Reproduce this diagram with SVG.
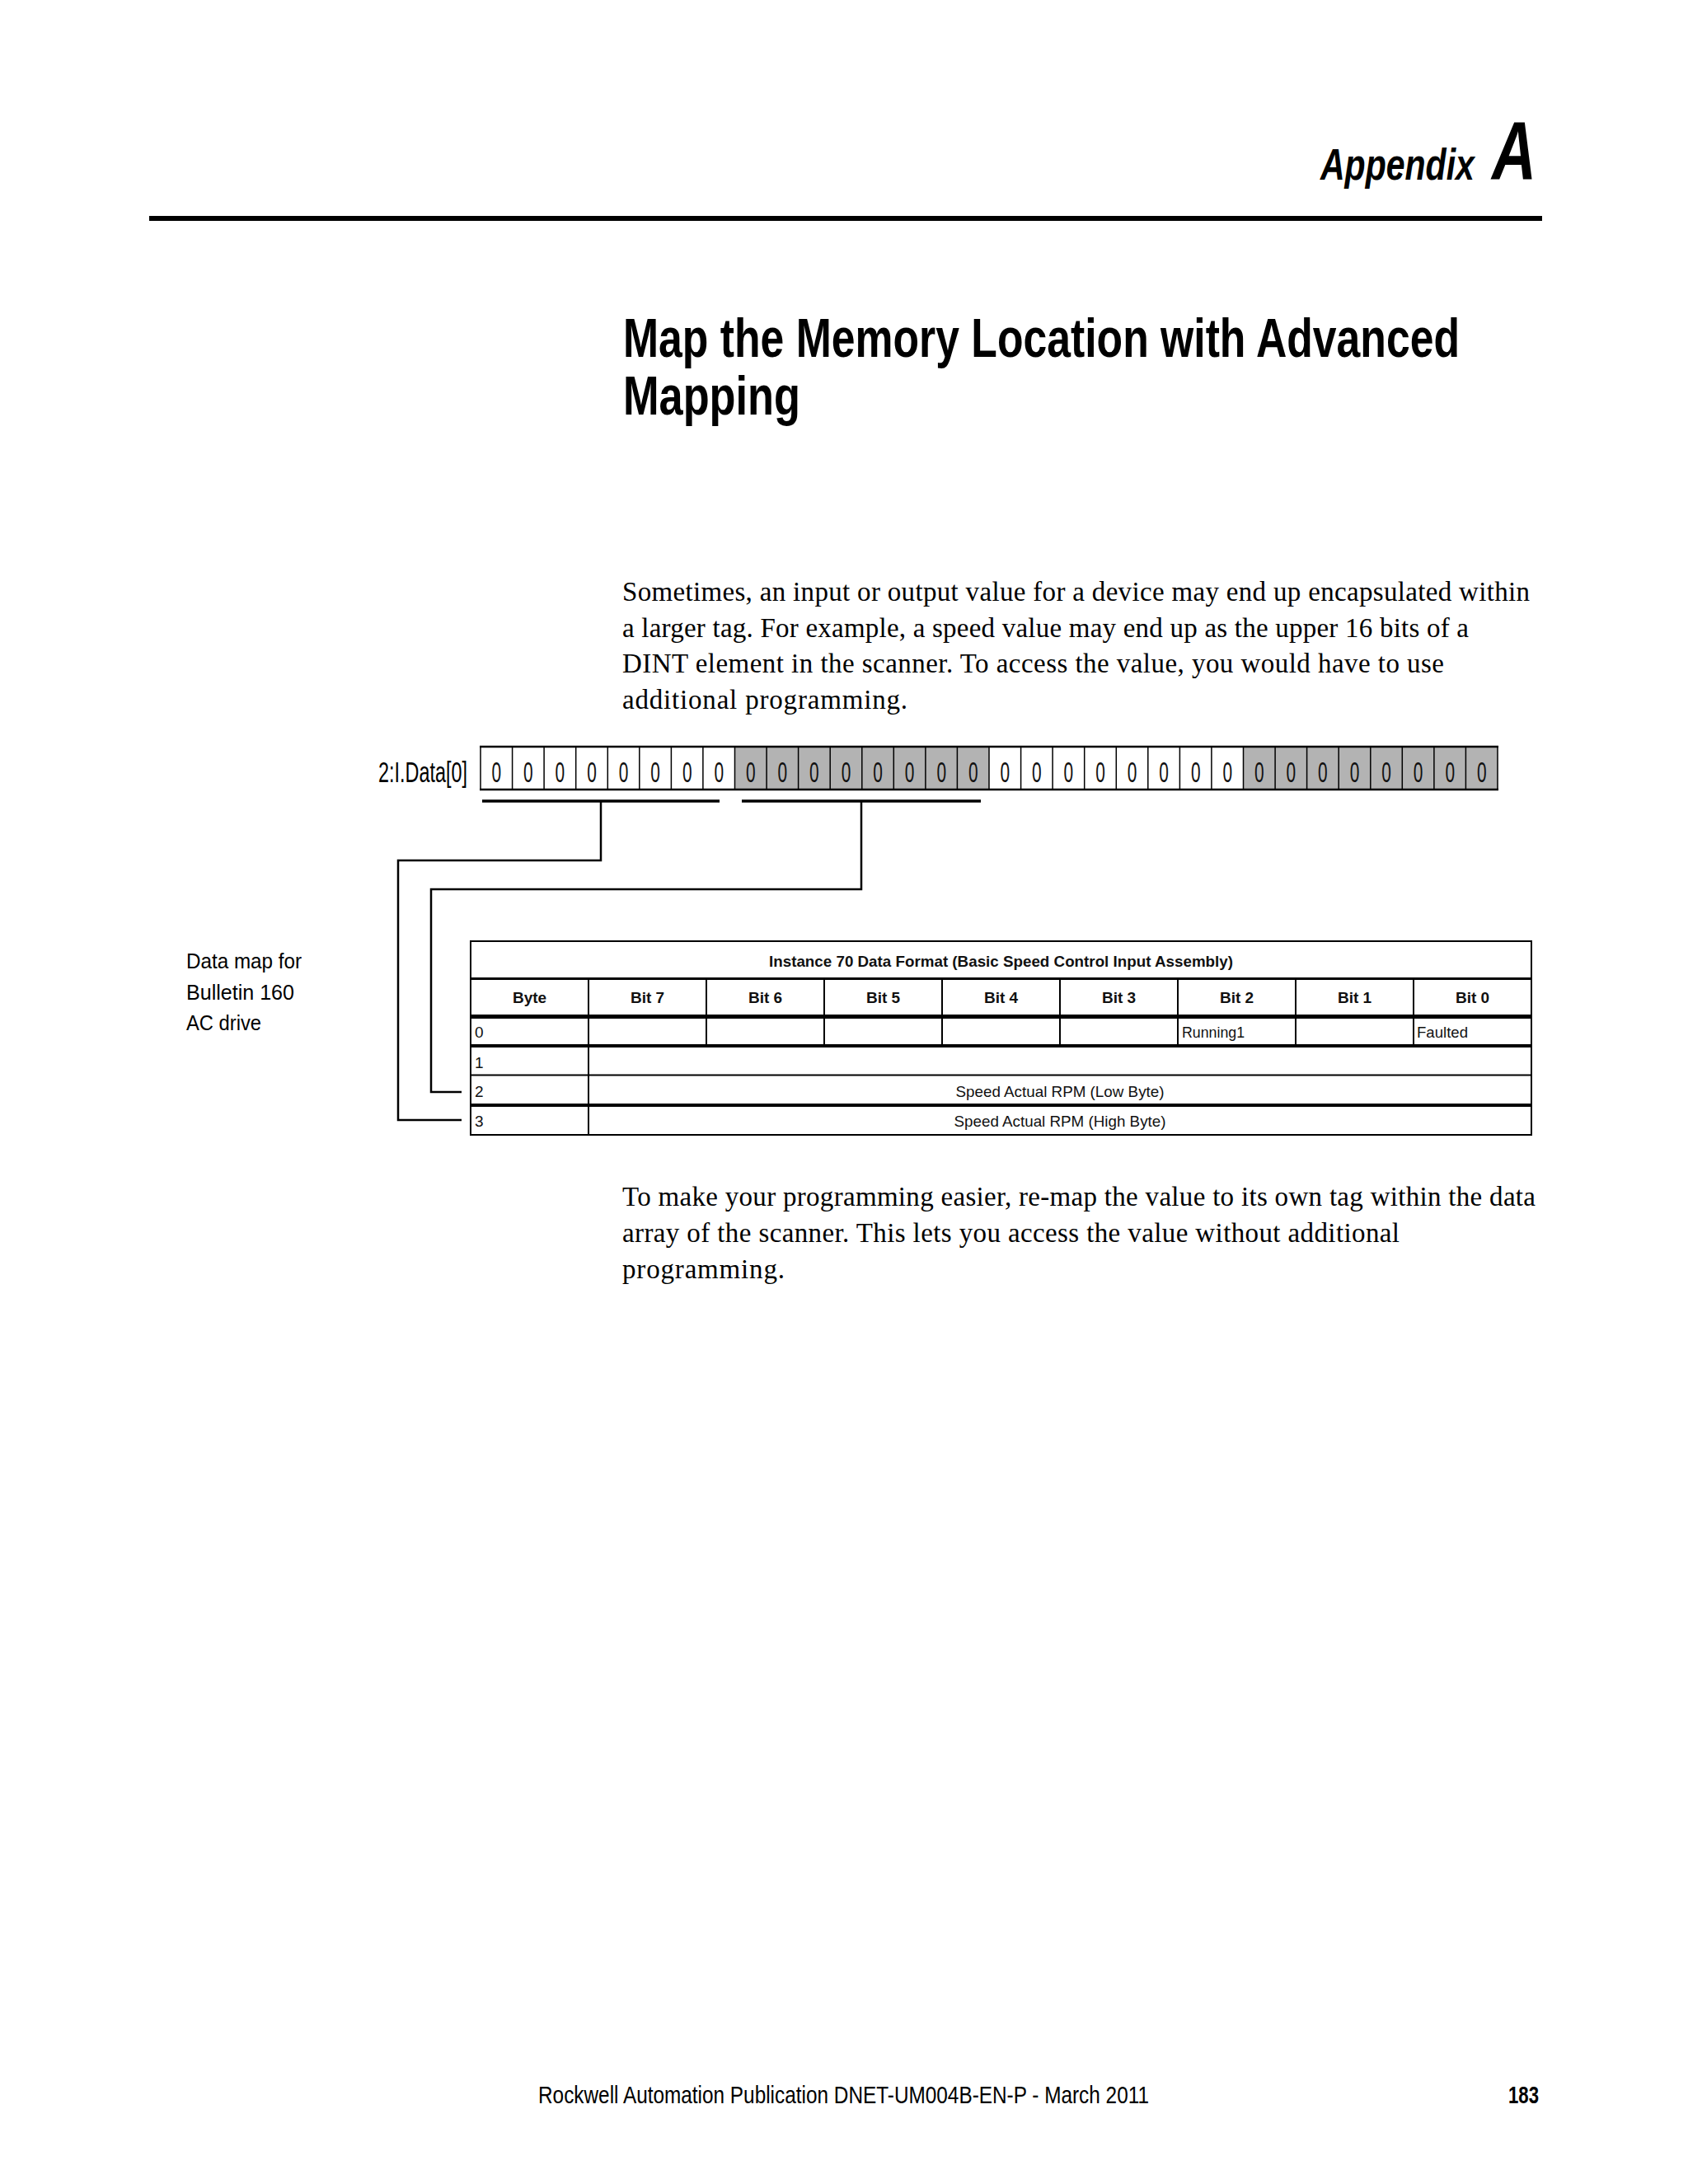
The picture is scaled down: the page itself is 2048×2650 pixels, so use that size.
<svg xmlns="http://www.w3.org/2000/svg" width="2048" height="2650" viewBox="0 0 2048 2650">
<style>
.sans{font-family:"Liberation Sans",Arial,sans-serif;fill:#000}
.serif{font-family:"Liberation Serif","Times New Roman",serif;fill:#000;font-size:33px}
.bold{font-weight:bold}
.digit{font-family:"Liberation Sans",Arial,sans-serif;font-size:36px;text-anchor:middle;fill:#111}
.cell{font-family:"Liberation Sans",Arial,sans-serif;font-size:19px;fill:#111}
.hdr{font-family:"Liberation Sans",Arial,sans-serif;font-size:19px;font-weight:bold;text-anchor:middle;fill:#111}
.ln{stroke:#000;fill:none}
.conn{stroke:#000;fill:none;stroke-width:2.5}
.bar{stroke:#000;stroke-width:3.5}
</style>
<rect width="2048" height="2650" fill="#fff"/>

<g id="page-header">
  <text class="sans bold" transform="translate(1602,218) scale(0.76,1)" font-size="54" font-style="italic">Appendix</text>
  <text class="sans bold" transform="translate(1810,218) scale(0.74,1)" font-size="101" font-style="italic">A</text>
  <line x1="181" y1="265" x2="1871" y2="265" stroke="#000" stroke-width="6"/>
</g>

<g id="title">
  <text class="sans bold" x="756" y="433" font-size="66" textLength="1015" lengthAdjust="spacingAndGlyphs">Map the Memory Location with Advanced</text>
  <text class="sans bold" x="756" y="503" font-size="66" textLength="215" lengthAdjust="spacingAndGlyphs">Mapping</text>
</g>

<g id="paragraph-1">
  <text class="serif" x="755" y="729" textLength="1101" lengthAdjust="spacing">Sometimes, an input or output value for a device may end up encapsulated within</text>
  <text class="serif" x="755" y="773" textLength="1027" lengthAdjust="spacing">a larger tag. For example, a speed value may end up as the upper 16 bits of a</text>
  <text class="serif" x="755" y="816" textLength="997" lengthAdjust="spacing">DINT element in the scanner. To access the value, you would have to use</text>
  <text class="serif" x="755" y="860" textLength="346" lengthAdjust="spacing">additional programming.</text>
</g>

<g id="bit-row">
  <text class="sans" transform="translate(567,949) scale(0.65,1)" font-size="36" text-anchor="end">2:I.Data[0]</text>
  <rect x="583" y="906" width="1234" height="52" fill="#fff"/>
  <rect x="891.5" y="906" width="308.5" height="52" fill="#b3b3b3"/>
  <rect x="1508.5" y="906" width="308.5" height="52" fill="#b3b3b3"/>
  <path class="ln" stroke-width="1.5" d="M583 906V958M621.6 906V958M660.1 906V958M698.7 906V958M737.3 906V958M775.8 906V958M814.4 906V958M852.9 906V958M891.5 906V958M930.1 906V958M968.6 906V958M1007.2 906V958M1045.8 906V958M1084.3 906V958M1122.9 906V958M1161.4 906V958M1200 906V958M1238.6 906V958M1277.1 906V958M1315.7 906V958M1354.3 906V958M1392.8 906V958M1431.4 906V958M1469.9 906V958M1508.5 906V958M1547.1 906V958M1585.6 906V958M1624.2 906V958M1662.8 906V958M1701.3 906V958M1739.9 906V958M1778.4 906V958M1817 906V958"/>
  <line class="ln" x1="582" y1="906" x2="1818" y2="906" stroke-width="2.5"/>
  <line class="ln" x1="582" y1="958" x2="1818" y2="958" stroke-width="2.5"/>
  <text class="digit" transform="translate(602.3,949) scale(0.58,1)">0</text>
  <text class="digit" transform="translate(640.8,949) scale(0.58,1)">0</text>
  <text class="digit" transform="translate(679.4,949) scale(0.58,1)">0</text>
  <text class="digit" transform="translate(718.0,949) scale(0.58,1)">0</text>
  <text class="digit" transform="translate(756.5,949) scale(0.58,1)">0</text>
  <text class="digit" transform="translate(795.1,949) scale(0.58,1)">0</text>
  <text class="digit" transform="translate(833.7,949) scale(0.58,1)">0</text>
  <text class="digit" transform="translate(872.2,949) scale(0.58,1)">0</text>
  <text class="digit" transform="translate(910.8,949) scale(0.58,1)">0</text>
  <text class="digit" transform="translate(949.3,949) scale(0.58,1)">0</text>
  <text class="digit" transform="translate(987.9,949) scale(0.58,1)">0</text>
  <text class="digit" transform="translate(1026.5,949) scale(0.58,1)">0</text>
  <text class="digit" transform="translate(1065.0,949) scale(0.58,1)">0</text>
  <text class="digit" transform="translate(1103.6,949) scale(0.58,1)">0</text>
  <text class="digit" transform="translate(1142.2,949) scale(0.58,1)">0</text>
  <text class="digit" transform="translate(1180.7,949) scale(0.58,1)">0</text>
  <text class="digit" transform="translate(1219.3,949) scale(0.58,1)">0</text>
  <text class="digit" transform="translate(1257.8,949) scale(0.58,1)">0</text>
  <text class="digit" transform="translate(1296.4,949) scale(0.58,1)">0</text>
  <text class="digit" transform="translate(1335.0,949) scale(0.58,1)">0</text>
  <text class="digit" transform="translate(1373.5,949) scale(0.58,1)">0</text>
  <text class="digit" transform="translate(1412.1,949) scale(0.58,1)">0</text>
  <text class="digit" transform="translate(1450.7,949) scale(0.58,1)">0</text>
  <text class="digit" transform="translate(1489.2,949) scale(0.58,1)">0</text>
  <text class="digit" transform="translate(1527.8,949) scale(0.58,1)">0</text>
  <text class="digit" transform="translate(1566.3,949) scale(0.58,1)">0</text>
  <text class="digit" transform="translate(1604.9,949) scale(0.58,1)">0</text>
  <text class="digit" transform="translate(1643.5,949) scale(0.58,1)">0</text>
  <text class="digit" transform="translate(1682.0,949) scale(0.58,1)">0</text>
  <text class="digit" transform="translate(1720.6,949) scale(0.58,1)">0</text>
  <text class="digit" transform="translate(1759.2,949) scale(0.58,1)">0</text>
  <text class="digit" transform="translate(1797.7,949) scale(0.58,1)">0</text>
</g>

<g id="connectors">
  <line class="bar" x1="585" y1="972" x2="873" y2="972"/>
  <line class="bar" x1="900" y1="972" x2="1190" y2="972"/>
  <path class="conn" d="M729 972V1044H483V1359H560"/>
  <path class="conn" d="M1045 972V1079H523V1325H560"/>
</g>

<g id="data-map-label">
  <text class="sans" x="226" y="1175" font-size="25" textLength="140" lengthAdjust="spacingAndGlyphs">Data map for</text>
  <text class="sans" x="226" y="1213" font-size="25" textLength="131" lengthAdjust="spacingAndGlyphs">Bulletin 160</text>
  <text class="sans" x="226" y="1250" font-size="25" textLength="91" lengthAdjust="spacingAndGlyphs">AC drive</text>
</g>

<g id="data-table">
  <rect class="ln" x="571" y="1142" width="1287" height="235" stroke-width="2"/>
  <line class="ln" x1="571" y1="1187.5" x2="1858" y2="1187.5" stroke-width="3"/>
  <line class="ln" x1="571" y1="1233.5" x2="1858" y2="1233.5" stroke-width="5"/>
  <line class="ln" x1="571" y1="1269" x2="1858" y2="1269" stroke-width="4"/>
  <line class="ln" x1="571" y1="1304.5" x2="1858" y2="1304.5" stroke-width="2"/>
  <line class="ln" x1="571" y1="1341" x2="1858" y2="1341" stroke-width="4"/>
  <path class="ln" stroke-width="2" d="M714 1187V1377M857 1187V1269M1000 1187V1269M1143 1187V1269M1286 1187V1269M1429 1187V1269M1572 1187V1269M1715 1187V1269"/>
  <text class="hdr" x="1214.5" y="1173" font-size="20" textLength="563" lengthAdjust="spacingAndGlyphs">Instance 70 Data Format (Basic Speed Control Input Assembly)</text>
  <text class="hdr" x="642.5" y="1217">Byte</text>
  <text class="hdr" x="785.5" y="1217">Bit 7</text>
  <text class="hdr" x="928.5" y="1217">Bit 6</text>
  <text class="hdr" x="1071.5" y="1217">Bit 5</text>
  <text class="hdr" x="1214.5" y="1217">Bit 4</text>
  <text class="hdr" x="1357.5" y="1217">Bit 3</text>
  <text class="hdr" x="1500.5" y="1217">Bit 2</text>
  <text class="hdr" x="1643.5" y="1217">Bit 1</text>
  <text class="hdr" x="1786.5" y="1217">Bit 0</text>
  <text class="cell" x="576" y="1259">0</text>
  <text class="cell" x="1434" y="1259" textLength="76" lengthAdjust="spacingAndGlyphs">Running1</text>
  <text class="cell" x="1719" y="1259" textLength="62" lengthAdjust="spacingAndGlyphs">Faulted</text>
  <text class="cell" x="576" y="1296">1</text>
  <text class="cell" x="576" y="1331">2</text>
  <text class="cell" x="1286" y="1331" text-anchor="middle" textLength="253" lengthAdjust="spacingAndGlyphs">Speed Actual RPM (Low Byte)</text>
  <text class="cell" x="576" y="1367">3</text>
  <text class="cell" x="1286" y="1367" text-anchor="middle" textLength="257" lengthAdjust="spacingAndGlyphs">Speed Actual RPM (High Byte)</text>
</g>

<g id="paragraph-2">
  <text class="serif" x="755" y="1463" textLength="1108" lengthAdjust="spacing">To make your programming easier, re-map the value to its own tag within the data</text>
  <text class="serif" x="755" y="1507" textLength="943" lengthAdjust="spacing">array of the scanner. This lets you access the value without additional</text>
  <text class="serif" x="755" y="1551" textLength="197" lengthAdjust="spacing">programming.</text>
</g>

<g id="footer">
  <text class="sans" x="653" y="2552" font-size="30" textLength="741" lengthAdjust="spacingAndGlyphs">Rockwell Automation Publication DNET-UM004B-EN-P - March 2011</text>
  <text class="sans bold" x="1867" y="2552" font-size="30" text-anchor="end" textLength="37" lengthAdjust="spacingAndGlyphs">183</text>
</g>
</svg>
